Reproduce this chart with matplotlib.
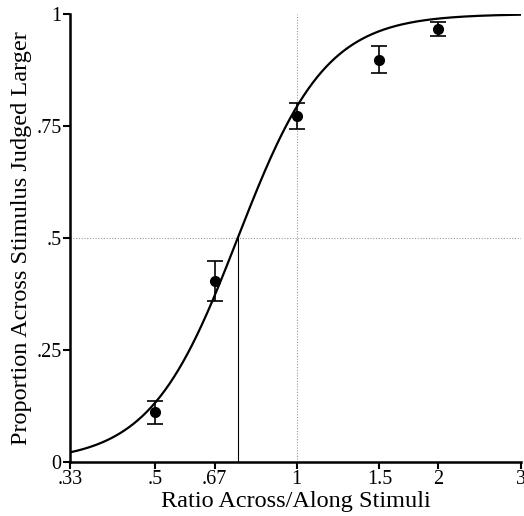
import numpy as np
import matplotlib
matplotlib.use("Agg")
import matplotlib.pyplot as plt

# data
ratios = [0.5, 0.67, 1.0, 1.5, 2.0]
props = [0.112, 0.404, 0.772, 0.897, 0.967]
err_lo = [0.027, 0.045, 0.029, 0.029, 0.016]
err_hi = [0.025, 0.045, 0.029, 0.032, 0.015]

xticks = [0.33, 0.5, 0.67, 1, 1.5, 2, 3]
xtick_labels = [".33", ".5", ".67", "1", "1.5", "2", "3"]
yticks = [0, 0.25, 0.5, 0.75, 1]
ytick_labels = ["0", ".25", ".5", ".75", "1"]

# fitted psychometric function (logistic on log ratio)
pse = 0.75
slope = 0.215

plt.rcParams['font.family'] = ['Liberation Serif', 'DejaVu Serif']

fig = plt.figure(figsize=(5.24, 5.16), dpi=100)
ax = fig.add_axes([0.1336, 0.1047, 0.9943 - 0.1336, 0.9729 - 0.1047])
ax.set_xscale('log')

xs = np.exp(np.linspace(np.log(0.33), np.log(3), 300))
curve = 1 / (1 + np.exp(-(np.log(xs) - np.log(pse)) / slope))

ax.plot([1, 1], [0, 1], color='#999999', lw=0.8, ls=(0, (1, 1.5)))
ax.plot([0.33, 3], [0.5, 0.5], color='#999999', lw=0.8, ls=(0, (1, 1.5)))
ax.plot([pse, pse], [0, 0.5], color='black', lw=0.8)
ax.plot(xs, curve, color='black', lw=1.6)
ax.errorbar(ratios, props, yerr=[err_lo, err_hi], fmt='o', color='black',
            ms=7, capsize=6, elinewidth=1.2, capthick=1.2)

ax.set_xlim(0.33, 3)
ax.set_ylim(0, 1)
ax.set_xticks(xticks)
ax.set_xticklabels(xtick_labels)
ax.xaxis.set_minor_locator(matplotlib.ticker.NullLocator())
ax.set_yticks(yticks)
ax.set_yticklabels(ytick_labels)
ax.tick_params(labelsize=14.5, width=1.5, length=5, pad=1)

for s in ['top', 'right']:
    ax.spines[s].set_visible(False)
for s in ['left', 'bottom']:
    ax.spines[s].set_linewidth(1.8)

ax.set_xlabel("Ratio Across/Along Stimuli", fontsize=17.5, labelpad=1)
ax.set_ylabel("Proportion Across Stimulus Judged Larger", fontsize=17.5, labelpad=3)

fig.savefig("out.png", dpi=100)
